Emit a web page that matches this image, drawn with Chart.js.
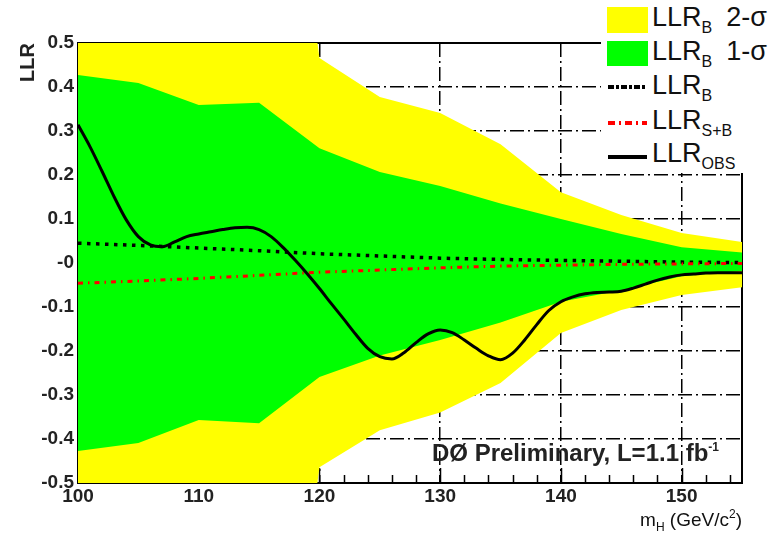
<!DOCTYPE html>
<html>
<head>
<meta charset="utf-8">
<script src="https://cdn.jsdelivr.net/npm/chart.js@4/dist/chart.umd.min.js"></script>
<style>
  html, body { margin:0; padding:0; background:#fff; }
  #wrap { position:relative; width:782px; height:536px; overflow:hidden; }
  #c { position:absolute; left:0; top:0; }
  .ov { position:absolute; white-space:nowrap; color:#111; font-family:'Liberation Sans',Arial,sans-serif; }
  #legend { position:absolute; left:601px; top:0; width:181px; height:173px; background:#fff; }
  .sw { position:absolute; }
  .lt { position:absolute; font-size:27px; line-height:1; white-space:nowrap; color:#111; font-family:'Liberation Sans Narrow','Liberation Sans',Arial,sans-serif; }
  .lt sub { font-size:16px; vertical-align:-7px; }
</style>
</head>
<body>
<div id="wrap">
  <canvas id="c" width="782" height="536"></canvas>
  <div id="legend">
    <div class="sw" style="left:6px;top:7px;width:41px;height:26px;background:#ffff00"></div>
    <div class="sw" style="left:6px;top:41px;width:41px;height:25px;background:#00ff00"></div>
    <svg class="sw" style="left:0;top:0" width="60" height="173">
      <line x1="7" y1="87" x2="46" y2="87" stroke="#000" stroke-width="4" stroke-dasharray="6,2,3,2"/>
      <line x1="7" y1="123" x2="46" y2="123" stroke="#ff0000" stroke-width="4" stroke-dasharray="7,4,2,4"/>
      <line x1="7" y1="157" x2="46" y2="157" stroke="#000" stroke-width="4"/>
    </svg>
    <div class="lt" style="left:51px;top:4px">LLR<sub>B</sub><span style="margin-left:14px">2-σ</span></div>
    <div class="lt" style="left:51px;top:38px">LLR<sub>B</sub><span style="margin-left:14px">1-σ</span></div>
    <div class="lt" style="left:51px;top:72px">LLR<sub>B</sub></div>
    <div class="lt" style="left:51px;top:107px">LLR<sub>S+B</sub></div>
    <div class="lt" style="left:51px;top:140px">LLR<sub>OBS</sub></div>
  </div>
  <div class="ov" style="left:432px;top:441px;font-size:24px;font-weight:bold;line-height:1;color:#222;">DØ Preliminary, L=1.1 fb<sup style="font-size:12px;vertical-align:10px">-1</sup></div>
  <div class="ov" style="right:40px;top:508px;font-size:19px;line-height:1;">m<sub style="font-size:12px;vertical-align:-5px">H</sub> (GeV/c<sup style="font-size:12px;vertical-align:8px">2</sup>)</div>
</div>
<script>
// ---- data ----
const massGrid   = [100, 105, 110, 115, 120, 125, 130, 135, 140, 145, 150, 155];
const band2Upper = [1.5, 1.5, 1.5, 1.5, 0.466, 0.377, 0.341, 0.270, 0.161, 0.109, 0.068, 0.048];
const band2Lower = [-1.5, -1.5, -1.5, -1.5, -0.464, -0.380, -0.340, -0.273, -0.159, -0.107, -0.073, -0.055];
const band1Upper = [0.427, 0.409, 0.359, 0.364, 0.261, 0.207, 0.175, 0.135, 0.100, 0.066, 0.036, 0.024];
const band1Lower = [-0.427, -0.409, -0.357, -0.364, -0.259, -0.210, -0.175, -0.135, -0.088, -0.062, -0.030, -0.018];
const llrB       = [0.045, 0.040, 0.034, 0.028, 0.021, 0.016, 0.011, 0.008, 0.006, 0.004, 0.002, 0.001];
const llrSB      = [-0.046, -0.041, -0.035, -0.028, -0.021, -0.016, -0.011, -0.007, -0.005, -0.003, -0.002, -0.001];
const obsMass = [100,101,102,103,104,105,106,107,108,109,110,111,112,113,114,115,116,117,118,119,120,121,122,123,124,125,126,127,128,129,130,131,132,133,134,135,136,137,138,139,140,141,142,143,144,145,146,147,148,149,150,151,152,153,154,155];
const obsLLR  = [0.314,0.264,0.208,0.150,0.098,0.060,0.041,0.037,0.048,0.060,0.066,0.071,0.076,0.080,0.081,0.076,0.060,0.035,0.006,-0.025,-0.058,-0.093,-0.127,-0.162,-0.194,-0.213,-0.218,-0.204,-0.181,-0.161,-0.152,-0.158,-0.175,-0.194,-0.211,-0.220,-0.205,-0.175,-0.140,-0.108,-0.088,-0.077,-0.070,-0.067,-0.066,-0.064,-0.057,-0.048,-0.039,-0.032,-0.027,-0.025,-0.023,-0.022,-0.022,-0.022];
const xTickValues = [100, 110, 120, 130, 140, 150];
const xMinorTicks = [102,104,106,108,112,114,116,118,122,124,126,128,132,134,136,138,142,144,146,148,152,154];
const yTickLabels = {"0.5":"0.5","0.4":"0.4","0.3":"0.3","0.2":"0.2","0.1":"0.1","0.0":"-0","-0.1":"-0.1","-0.2":"-0.2","-0.3":"-0.3","-0.4":"-0.4","-0.5":"-0.5"};

const pts = (xs, ys) => xs.map((x, i) => ({x: x, y: ys[i]}));
const FONT = "'Liberation Sans',Arial,sans-serif";

const framePlugin = {
  id: 'frame',
  beforeDatasetsDraw(chart) {
    const {ctx, chartArea: a, scales: {x}} = chart;
    ctx.save();
    ctx.strokeStyle = '#000';
    ctx.lineWidth = 2;
    ctx.strokeRect(a.left, a.top, a.right - a.left, a.bottom - a.top);
    ctx.lineWidth = 1.5;
    ctx.beginPath();
    xMinorTicks.forEach(v => {
      const px = Math.round(x.getPixelForValue(v)) + 0.5;
      ctx.moveTo(px, a.bottom); ctx.lineTo(px, a.bottom - 8);
    });
    xTickValues.forEach(v => {
      const px = Math.round(x.getPixelForValue(v)) + 0.5;
      ctx.moveTo(px, a.bottom); ctx.lineTo(px, a.bottom - 15);
    });
    ctx.stroke();
    ctx.restore();
  }
};

new Chart(document.getElementById('c'), {
  type: 'line',
  data: {
    datasets: [
      { label: 'LLR_B 2-sigma up', data: pts(massGrid, band2Upper), borderWidth: 0, pointRadius: 0, backgroundColor: '#ffff00', fill: 1, order: 10 },
      { label: 'LLR_B 2-sigma down', data: pts(massGrid, band2Lower), borderWidth: 0, pointRadius: 0, fill: false, order: 10 },
      { label: 'LLR_B 1-sigma up', data: pts(massGrid, band1Upper), borderWidth: 0, pointRadius: 0, backgroundColor: '#00ff00', fill: 3, order: 9 },
      { label: 'LLR_B 1-sigma down', data: pts(massGrid, band1Lower), borderWidth: 0, pointRadius: 0, fill: false, order: 9 },
      { label: 'LLR_B', data: pts(massGrid, llrB), borderColor: '#000', borderWidth: 3.5, borderDash: [3.5, 5.5], pointRadius: 0, fill: false, order: 3 },
      { label: 'LLR_S+B', data: pts(massGrid, llrSB), borderColor: '#ff0000', borderWidth: 3, borderDash: [5, 5, 1.5, 5], pointRadius: 0, fill: false, order: 2 },
      { label: 'LLR_OBS', data: pts(obsMass, obsLLR), borderColor: '#000', borderWidth: 3, pointRadius: 0, fill: false, cubicInterpolationMode: 'monotone', order: 1 }
    ]
  },
  options: {
    responsive: false,
    animation: false,
    devicePixelRatio: 1,
    layout: { padding: { top: 43, right: 40, left: 0, bottom: 0 } },
    plugins: { legend: { display: false }, tooltip: { enabled: false } },
    scales: {
      x: {
        type: 'linear', min: 100, max: 155,
        afterFit: s => { s.height = 53; },
        afterBuildTicks: s => { s.ticks = xTickValues.map(v => ({value: v})); },
        ticks: { font: { family: FONT, size: 19, weight: 'bold' }, color: '#222', padding: 2, maxRotation: 0 },
        grid: { drawTicks: false, lineWidth: 1.5, color: c => (c.tick && c.tick.value === 100) ? 'rgba(0,0,0,0)' : '#000' },
        border: { display: false, dash: [14, 4, 2, 4] }
      },
      y: {
        type: 'linear', min: -0.5, max: 0.5,
        afterFit: s => { s.width = 78; },
        ticks: { stepSize: 0.1, font: { family: FONT, size: 19, weight: 'bold' }, color: '#222', padding: 4,
                 callback: v => yTickLabels[(Math.round(v * 10) / 10).toFixed(1)] },
        grid: { drawTicks: false, lineWidth: 1.5, color: c => (c.tick && Math.abs(c.tick.value) > 0.49) ? 'rgba(0,0,0,0)' : '#000' },
        border: { display: false, dash: [14, 4, 2, 4] },
        title: { display: true, text: 'LLR', align: 'end', font: { family: FONT, size: 20, weight: 'bold' }, color: '#222', padding: { top: 16, bottom: 0 } }
      }
    }
  },
  plugins: [framePlugin]
});
</script>
</body>
</html>
